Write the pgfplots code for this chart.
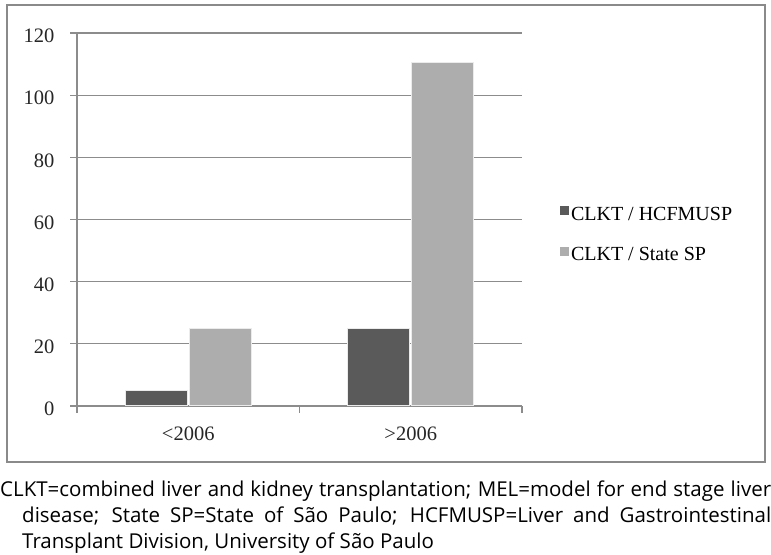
\documentclass[border=0pt]{standalone}
\usepackage{pgfplots}
\pgfplotsset{compat=1.18}
\usepackage{fontspec}
\setmainfont{Liberation Serif}
\newfontfamily\capfont{Open Sans}
\definecolor{darkbar}{HTML}{5A5A5A}
\definecolor{lightbar}{HTML}{ADADAD}
\definecolor{gridc}{HTML}{8C8C8C}
\definecolor{framec}{HTML}{8A8A8A}
\begin{document}
\begin{tikzpicture}[x=1bp,y=1bp]
\useasboundingbox (0,0) rectangle (771,555);
\draw[framec, line width=1.5bp] (7,93) rectangle (765,550);
\begin{axis}[
  at={(77bp,149bp)}, anchor=south west,
  scale only axis, width=445bp, height=373bp,
  xmin=0, xmax=2, ymin=0, ymax=120,
  axis x line*=bottom, axis y line*=left,
  axis line style={gridc, line width=1.2bp},
  ytick={0,20,...,120},
  ymajorgrids, major grid style={gridc, line width=1.2bp},
  tick style={gridc, line width=1.2bp},
  tick align=outside, major tick length=7bp,
  xtick={0,1,2}, xticklabels={},
  extra x ticks={0.5,1.5}, extra x tick labels={<2006,>2006},
  extra x tick style={major tick length=0pt, xticklabel style={yshift=-17bp}},
  ticklabel style={font=\fontsize{20.5bp}{24bp}\selectfont, text=black!85},
  yticklabel style={xshift=-12bp, yshift=-3bp},
  /pgf/number format/assume math mode=true,
  ybar=2bp, bar width=62bp,
  legend style={draw=none, fill=none, at={(1.085,0.54)}, anchor=north west,
    font=\fontsize{20bp}{24bp}\selectfont, row sep=22bp, inner sep=0pt},
  legend cell align=left,
  legend image code/.code={\fill[#1,draw=none] (0bp,-1bp) rectangle (9bp,8bp);},
]
\addplot[fill=darkbar, draw=white!92!black, line width=1bp] coordinates {(0.5,5) (1.5,25)};
\addplot[fill=lightbar, draw=white!92!black, line width=1bp] coordinates {(0.5,25) (1.5,110.5)};
\legend{CLKT / HCFMUSP, CLKT / State SP}
\end{axis}
\node[anchor=north west, inner sep=0pt, text width=771bp, align=justify,
  font=\capfont\fontsize{20.5bp}{26bp}\selectfont] at (0,74.5) {%
  \hangindent=22bp\hangafter=1
  CLKT=combined liver and kidney transplantation; MEL=model for end stage liver\linebreak
  disease; State SP=State of São Paulo; HCFMUSP=Liver and Gastrointestinal\linebreak
  Transplant Division, University of São Paulo\par};
\end{tikzpicture}
\end{document}
